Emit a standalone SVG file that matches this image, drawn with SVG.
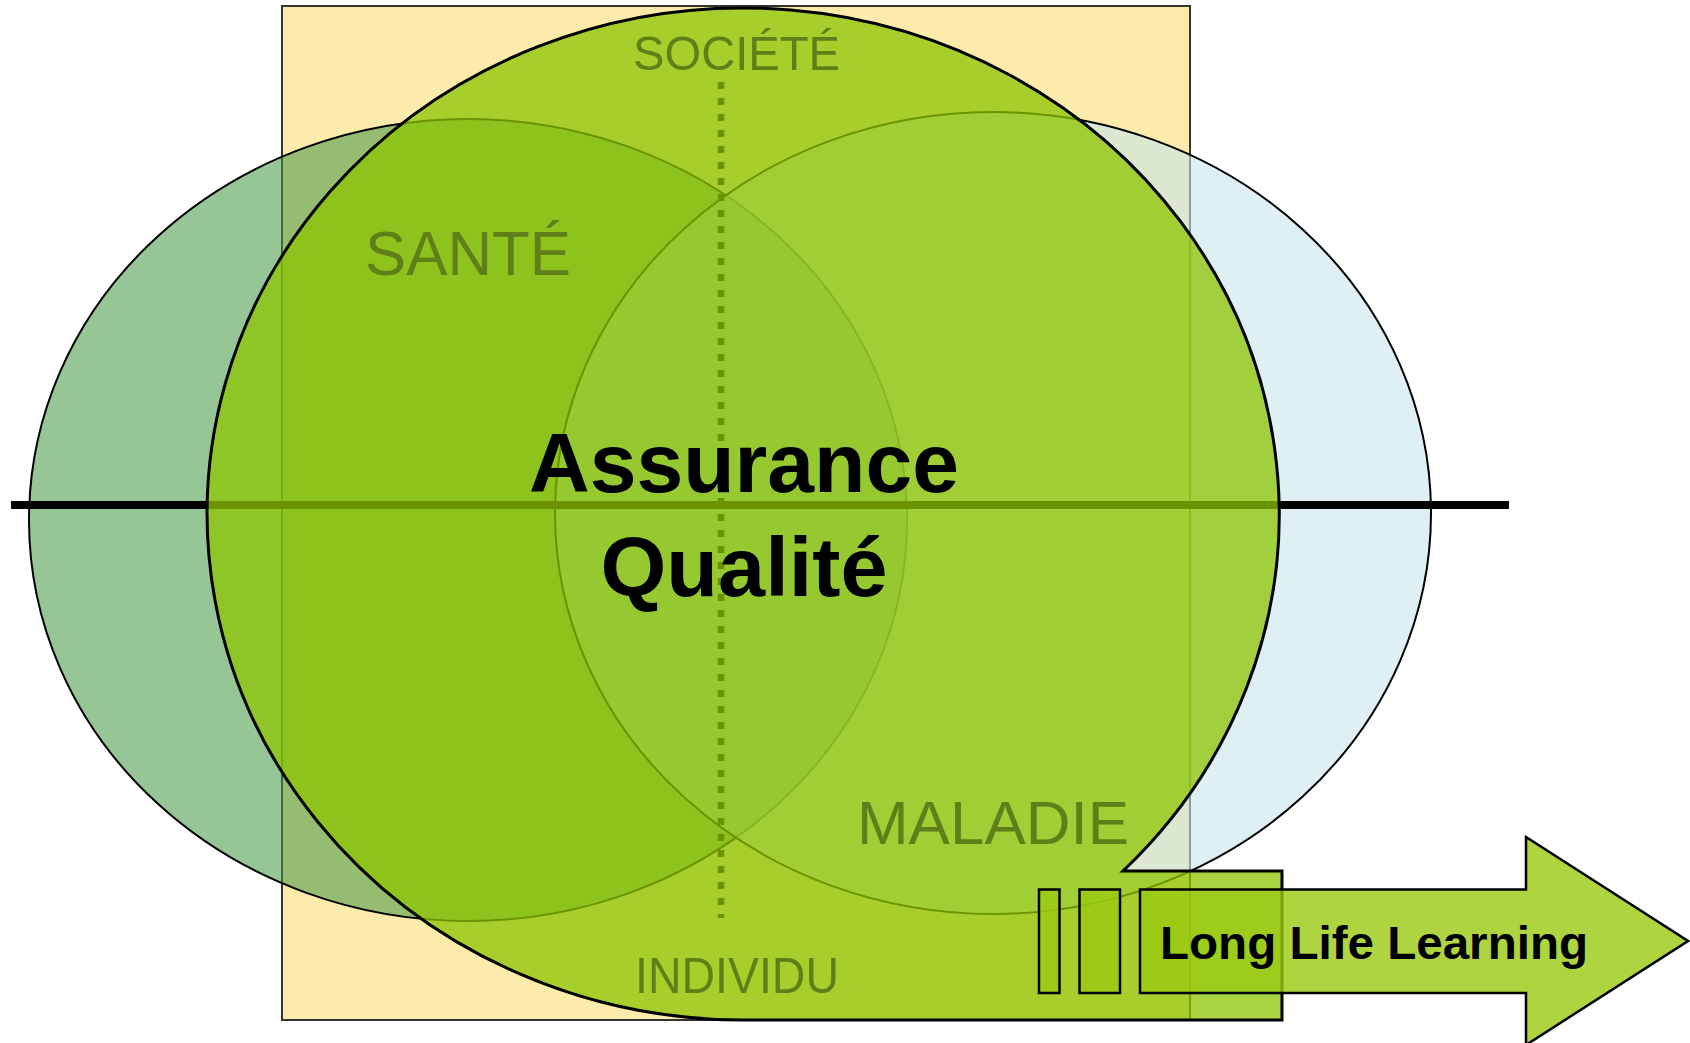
<svg xmlns="http://www.w3.org/2000/svg" width="1690" height="1043" viewBox="0 0 1690 1043">
<style>
.lbl{font-family:"Liberation Sans",Arial,sans-serif;fill:#5f7f18}
.big{font-family:"Liberation Sans",Arial,sans-serif;font-weight:bold;fill:#000}
.ol{stroke:#000;stroke-width:2}
.llf{fill:#9acb10;fill-opacity:0.8;stroke:#000;stroke-width:2.5;stroke-linejoin:miter}
</style>
<rect width="1690" height="1043" fill="#fff"/>
<g id="frame">
<rect x="282" y="6" width="908" height="1014" fill="#fcebaa" stroke="#333" stroke-width="2"/>
</g>
<g id="sante-ellipse">
<ellipse cx="468" cy="520" rx="439" ry="401" fill="#3f963f" fill-opacity="0.55" class="ol"/>
</g>
<g id="maladie-ellipse">
<ellipse cx="993" cy="513" rx="438" ry="401" fill="#c8e6ec" fill-opacity="0.6" class="ol"/>
</g>
<g id="axes">
<line x1="11" y1="505" x2="1509" y2="505" stroke="#000" stroke-width="8"/>
<line x1="721" y1="82" x2="721" y2="918" stroke="#000" stroke-width="6.5" stroke-dasharray="7 9"/>
</g>
<g id="assurance-qualite">
<path d="M1282,871 L1123,871 A536,506 0 1 0 744,1020 L1282,1020 Z" fill="#8cc400" fill-opacity="0.75" stroke="#000" stroke-width="3" stroke-linejoin="miter"/>
<text class="big" font-size="84" x="744" y="492" text-anchor="middle" textLength="430" lengthAdjust="spacingAndGlyphs">Assurance</text>
<text class="big" font-size="84" x="744" y="596" text-anchor="middle" textLength="287" lengthAdjust="spacingAndGlyphs">Qualité</text>
</g>
<g id="labels">
<text class="lbl" font-size="49" x="633" y="70" textLength="207" lengthAdjust="spacingAndGlyphs">SOCIÉTÉ</text>
<text class="lbl" font-size="63" x="365" y="275" textLength="206" lengthAdjust="spacingAndGlyphs">SANTÉ</text>
<text class="lbl" font-size="62" x="857" y="844" textLength="272" lengthAdjust="spacingAndGlyphs">MALADIE</text>
<text class="lbl" font-size="50" x="635" y="993" textLength="204" lengthAdjust="spacingAndGlyphs">INDIVIDU</text>
</g>
<g id="long-life-learning">
<rect class="llf" x="1039" y="889.5" width="20.5" height="103.5"/>
<rect class="llf" x="1079.5" y="889.5" width="40.5" height="103.5"/>
<path class="llf" d="M1140,889.5 L1526,889.5 L1526,837 L1688,941 L1526,1045 L1526,993 L1140,993 Z"/>
<text class="big" font-size="47" x="1160" y="959" textLength="428" lengthAdjust="spacingAndGlyphs">Long Life Learning</text>
</g>
</svg>
